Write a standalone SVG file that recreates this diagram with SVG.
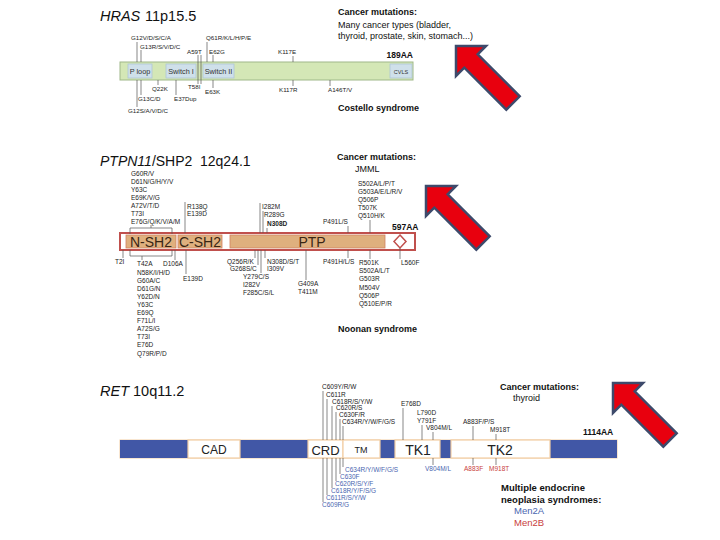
<svg xmlns="http://www.w3.org/2000/svg" width="720" height="540" viewBox="0 0 720 540">
<style>
text{font-family:"Liberation Sans",Arial,sans-serif;fill:#222}
.title{font-size:14.5px;fill:#111}
.it{font-style:italic}
.note{font-size:9px;font-weight:bold;fill:#111}
.note2{font-size:9px;fill:#111}
.h{font-size:6.2px}
.p{font-size:6.5px}
.r{font-size:6.5px}
.aa{font-size:8.5px;font-weight:bold;fill:#111}
.dom{font-size:7.3px;fill:#333}
.pdom{font-size:14px;fill:#3a2614}
.rdom{fill:#222}
.blue{fill:#4a66b0}
.red{fill:#c8403c}
.ln{stroke:#555;stroke-width:0.7;fill:none}
.arrow{fill:#e8000e;stroke:#3d4a6b;stroke-width:2.5;stroke-linejoin:miter}
.hbox{fill:#cfe0ea;stroke:#aec6d6;stroke-width:0.8}
.pbox{fill:#dfb07e;stroke:#cf8262;stroke-width:0.8}
.rblue{fill:#4157a6}
.rwhite{fill:#fff;stroke:#f2cea4;stroke-width:1.2}
</style>
<defs>
<polygon id="arr" points="0,0 30,0 21.7,8.3 63.7,50.3 50.3,63.7 8.3,21.7 0,30"/>
</defs>

<!-- ============ HRAS ============ -->
<g id="hras-title">
<text class="title it" x="100" y="21">HRAS</text>
<text class="title" x="145" y="21">11p15.5</text>
</g>
<g id="hras-note">
<text class="note" x="338" y="15">Cancer mutations:</text>
<text class="note2" x="338" y="28">Many cancer types (bladder,</text>
<text class="note2" x="338" y="39">thyroid, prostate, skin, stomach...)</text>
<text class="note" x="338" y="111">Costello syndrome</text>
</g>
<g id="hras-protein">
<rect x="120" y="62" width="293" height="18" fill="#d4e7b6" stroke="#9fb889" stroke-width="1"/>
<rect class="hbox" x="128" y="64" width="24" height="14"/>
<rect class="hbox" x="166" y="64" width="30" height="14"/>
<rect class="hbox" x="203" y="64" width="31" height="14"/>
<rect class="hbox" x="390" y="64" width="22" height="14"/>
<text class="dom" x="140" y="74" text-anchor="middle">P loop</text>
<text class="dom" x="181" y="74" text-anchor="middle">Switch I</text>
<text class="dom" x="218.5" y="74" text-anchor="middle">Switch II</text>
<text class="dom" x="401" y="73.5" text-anchor="middle" style="font-size:5.5px">CVLS</text>
<text class="aa" x="413" y="58" text-anchor="end">189AA</text>
</g>
<g id="hras-labels">
<text class="h" x="131" y="40">G12V/D/S/C/A</text>
<text class="h" x="140" y="49">G13R/S/V/D/C</text>
<text class="h" x="206" y="40">Q61R/K/L/H/P/E</text>
<text class="h" x="187" y="54">A59T</text>
<text class="h" x="209" y="54">E62G</text>
<text class="h" x="278" y="54">K117E</text>
<text class="h" x="152" y="91">Q22K</text>
<text class="h" x="188" y="89">T58I</text>
<text class="h" x="205" y="94">E63K</text>
<text class="h" x="279" y="92">K117R</text>
<text class="h" x="328" y="92">A146T/V</text>
<text class="h" x="138" y="101">G13C/D</text>
<text class="h" x="174" y="101">E37Dup</text>
<text class="h" x="128" y="113">G12S/A/V/D/C</text>
</g>

<!-- ============ PTPN11 ============ -->
<g id="ptpn11-title">
<text class="title" x="100" y="166" style="font-size:14px"><tspan class="it">PTPN11</tspan>/SHP2</text>
<text class="title" x="200" y="166" style="font-size:14px">12q24.1</text>
</g>
<g id="ptpn11-note">
<text class="note" x="337" y="160">Cancer mutations:</text>
<text class="note2" x="355" y="172">JMML</text>
<text class="note" x="338" y="332">Noonan syndrome</text>
</g>
<g id="ptpn11-protein">
<rect x="120" y="233" width="295" height="17" fill="#fff" stroke="#c0504d" stroke-width="2"/>
<rect class="pbox" x="126" y="235" width="50" height="13"/>
<rect class="pbox" x="178" y="235" width="44" height="13"/>
<rect class="pbox" x="230" y="235" width="155" height="13"/>
<polygon points="400,235 406,241.5 400,248 394,241.5" fill="#fff" stroke="#c0504d" stroke-width="1.5"/>
<text class="pdom" x="151" y="247" text-anchor="middle">N-SH2</text>
<text class="pdom" x="200" y="247" text-anchor="middle">C-SH2</text>
<text class="pdom" x="312" y="247" text-anchor="middle">PTP</text>
<text class="aa" x="392" y="230">597AA</text>
</g>
<g id="ptpn11-labels">
<text class="p" x="131" y="176">G60R/V</text>
<text class="p" x="131" y="184">D61N/G/H/Y/V</text>
<text class="p" x="131" y="192">Y63C</text>
<text class="p" x="131" y="200">E69K/V/G</text>
<text class="p" x="131" y="208">A72V/T/D</text>
<text class="p" x="131" y="216">T73I</text>
<text class="p" x="131" y="224">E76G/Q/K/V/A/M</text>
<text class="p" x="187" y="209">R138Q</text>
<text class="p" x="187" y="216">E139D</text>
<text class="p" x="262" y="209">I282M</text>
<text class="p" x="264" y="217">R289G</text>
<text class="p" x="267" y="226" style="font-weight:bold">N308D</text>
<text class="p" x="323" y="224">P491L/S</text>
<text class="p" x="358" y="186">S502A/L/P/T</text>
<text class="p" x="358" y="194">G503A/E/L/R/V</text>
<text class="p" x="358" y="202">Q506P</text>
<text class="p" x="358" y="210">T507K</text>
<text class="p" x="358" y="218">Q510H/K</text>

<text class="p" x="115" y="264">T2I</text>
<text class="p" x="137" y="266">T42A</text>
<text class="p" x="137" y="274.5">N58K/I/H/D</text>
<text class="p" x="137" y="283">G60A/C</text>
<text class="p" x="137" y="291">D61G/N</text>
<text class="p" x="137" y="299">Y62D/N</text>
<text class="p" x="137" y="307">Y63C</text>
<text class="p" x="137" y="315">E69Q</text>
<text class="p" x="137" y="323">F71L/I</text>
<text class="p" x="137" y="331">A72S/G</text>
<text class="p" x="137" y="339">T73I</text>
<text class="p" x="137" y="347">E76D</text>
<text class="p" x="137" y="356">Q79R/P/D</text>
<text class="p" x="163" y="266">D106A</text>
<text class="p" x="183" y="281">E139D</text>
<text class="p" x="227" y="264">Q256R/K</text>
<text class="p" x="230" y="271">G268S/C</text>
<text class="p" x="243" y="279">Y279C/S</text>
<text class="p" x="243" y="287">I282V</text>
<text class="p" x="243" y="295">F285C/S/L</text>
<text class="p" x="267" y="264">N308D/S/T</text>
<text class="p" x="267" y="271">I309V</text>
<text class="p" x="298" y="286">G409A</text>
<text class="p" x="298" y="294">T411M</text>
<text class="p" x="323" y="264">P491H/L/S</text>
<text class="p" x="359" y="265">R501K</text>
<text class="p" x="359" y="273">S502A/L/T</text>
<text class="p" x="359" y="281">G503R</text>
<text class="p" x="359" y="290">M504V</text>
<text class="p" x="359" y="298">Q506P</text>
<text class="p" x="359" y="306">Q510E/P/R</text>
<text class="p" x="401" y="265">L560F</text>
</g>

<!-- ============ RET ============ -->
<g id="ret-title">
<text class="title" x="100" y="396"><tspan class="it">RET</tspan> 10q11.2</text>
</g>
<g id="ret-note">
<text class="note" x="500" y="390">Cancer mutations:</text>
<text class="note2" x="513" y="401">thyroid</text>
<text class="note" x="501" y="491" style="font-size:9.5px">Multiple endocrine</text>
<text class="note" x="501" y="503" style="font-size:9.5px">neoplasia syndromes:</text>
<text class="note2 blue" x="514" y="514" style="font-size:9.5px">Men2A</text>
<text class="note2 red" x="514" y="526" style="font-size:9.5px">Men2B</text>
</g>
<g id="ret-protein">
<rect x="120" y="440" width="497" height="18" fill="#fff" stroke="#f2cea4" stroke-width="1"/>
<rect class="rblue" x="120" y="440" width="68" height="18"/>
<rect class="rblue" x="240" y="440" width="68" height="18"/>
<rect class="rblue" x="380" y="440" width="15" height="18"/>
<rect class="rblue" x="440" y="440" width="11" height="18"/>
<rect class="rblue" x="550" y="440" width="67" height="18"/>
<rect class="rwhite" x="188" y="440" width="52" height="18"/>
<rect class="rwhite" x="308" y="440" width="35" height="18"/>
<rect class="rwhite" x="343" y="440" width="37" height="18"/>
<rect class="rwhite" x="395" y="440" width="45" height="18"/>
<rect class="rwhite" x="451" y="440" width="99" height="18"/>
<text class="rdom" x="214" y="454" text-anchor="middle" style="font-size:12px">CAD</text>
<text class="rdom" x="325.5" y="455" text-anchor="middle" style="font-size:13px">CRD</text>
<text class="rdom" x="361" y="453" text-anchor="middle" style="font-size:9px">TM</text>
<text class="rdom" x="418" y="455" text-anchor="middle" style="font-size:14px">TK1</text>
<text class="rdom" x="500" y="455" text-anchor="middle" style="font-size:14px">TK2</text>
<text class="aa" x="583" y="435">1114AA</text>
</g>
<g id="ret-labels">
<text class="r" x="322" y="389">C609Y/R/W</text>
<text class="r" x="326" y="397">C611R</text>
<text class="r" x="332" y="404">C618R/S/Y/W</text>
<text class="r" x="336" y="410">C620R/S</text>
<text class="r" x="339" y="417">C630F/R</text>
<text class="r" x="342" y="424">C634R/Y/W/F/G/S</text>
<text class="r" x="401" y="406">E768D</text>
<text class="r" x="417" y="415">L790D</text>
<text class="r" x="417" y="423">Y791F</text>
<text class="r" x="426" y="430">V804M/L</text>
<text class="r" x="463" y="424">A883F/P/S</text>
<text class="r" x="490" y="432">M918T</text>
<text class="r blue" x="345" y="472">C634R/Y/W/F/G/S</text>
<text class="r blue" x="340" y="479">C630F</text>
<text class="r blue" x="335" y="486">C620R/S/Y/F</text>
<text class="r blue" x="331" y="493">C618R/Y/F/S/G</text>
<text class="r blue" x="326" y="500">C611R/S/Y/W</text>
<text class="r blue" x="322" y="507">C609R/G</text>
<text class="r blue" x="425" y="471">V804M/L</text>
<text class="r red" x="464" y="471">A883F</text>
<text class="r red" x="489" y="471">M918T</text>
</g>

<!-- ============ connectors ============ -->
<g id="connectors" class="ln">
<!-- HRAS -->
<path d="M137,42V62 M141,50V62 M207,42V62 M198,55V84 M201,55V84 M213,55V62 M293,56V62"/>
<path d="M158,80V85 M213,80V88 M293,80V86 M330,80V86 M141,80V95 M176,80V95 M137,80V107"/>
<!-- PTPN11 above -->
<path d="M130,234V228H172V234 M151,228V225"/>
<path d="M185,202V233 M260,203V233 M263,211V233 M267,228V233 M348,226V233 M370,220V233"/>
<!-- PTPN11 below -->
<path d="M130,250V256H172V250 M142,256V260"/>
<path d="M123,250V258 M175,250V260 M186,250V274 M255,250V258 M258,250V265 M261,250V273 M265,250V258 M306,250V280 M348,250V258 M370,250V259 M400,248V259"/>
<!-- RET above -->
<path d="M323,391V440 M327,399V440 M332,406V440 M336,412V440 M340,419V440 M343,426V440"/>
<path d="M403,408V440 M422,425V440 M433,432V440 M473,426V440 M496,434V440"/>
<!-- RET below -->
<path d="M323,458V502 M327,458V495 M332,458V488 M336,458V481 M340,458V474 M343,458V467"/>
<path d="M433,458V465 M473,458V465 M496,458V465"/>
</g>

<!-- red arrows -->
<g id="arrow-hras"><use href="#arr" class="arrow" transform="translate(456,46)"/></g>
<g id="arrow-ptpn11"><use href="#arr" class="arrow" transform="translate(426,186)"/></g>
<g id="arrow-ret"><use href="#arr" class="arrow" transform="translate(613,383)"/></g>
</svg>
